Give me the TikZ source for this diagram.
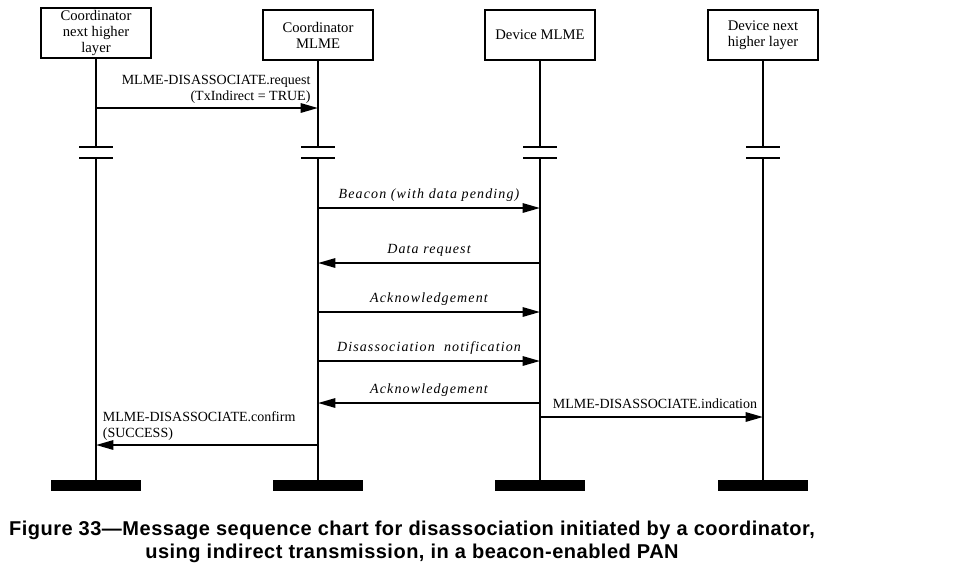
\documentclass[tikz,border=0pt]{standalone}
\usepackage{fontspec}
\setmainfont{Liberation Serif}
\newfontfamily\capfont[LetterSpace=2.5]{Liberation Sans}
\usetikzlibrary{arrows.meta}
\tikzset{
  entity/.style={draw, line width=1.1pt, minimum width=82.5pt, minimum height=37.5pt,
    align=center, inner sep=1pt, font=\fontsize{11}{12}\selectfont},
  life/.style={line width=1.5pt},
  msg/.style={line width=1.5pt, -{Triangle[length=13pt,width=7pt]}},
  lbl/.style={font=\fontsize{10.5}{12}\selectfont, inner sep=1pt},
  ilbl/.style={font=\fontsize{10.5}{12}\selectfont\itshape\addfontfeatures{LetterSpace=8},
    inner sep=1pt, above=3pt},
  capt/.style={font=\capfont\bfseries\fontsize{15}{17.25}\selectfont, align=center}
}
\begin{document}
\begin{tikzpicture}[x=0.75pt, y=-0.75pt]
  \useasboundingbox (0,0) rectangle (960,569);
  \node[entity] (cnhl)  at (96,33)  {Coordinator\\next higher\\layer};
  \node[entity] (cmlme) at (318,35) {Coordinator\\MLME};
  \node[entity] (dmlme) at (540,35) {Device MLME};
  \node[entity] (dnhl)  at (763,35) {Device next\\higher layer};
  \coordinate (brk1) at (0,147);
  \coordinate (brk2) at (0,158);
  \coordinate (bot) at (0,480);
  \foreach \n in {cnhl,cmlme,dmlme,dnhl} {
    \draw[life] (\n.south) -- (\n |- brk1);
    \draw[life] (\n |- brk2) -- (\n |- bot);
    \draw[life] ([xshift=-12.75pt]\n |- brk1) -- ([xshift=12.75pt]\n |- brk1);
    \draw[life] ([xshift=-12.75pt]\n |- brk2) -- ([xshift=12.75pt]\n |- brk2);
    \fill ([xshift=-33.75pt]\n |- bot) rectangle ([xshift=33.75pt, yshift=-8.25pt]\n |- bot);
  }
  \coordinate (m1) at (0,108);
  \coordinate (m2) at (0,208);
  \coordinate (m3) at (0,263);
  \coordinate (m4) at (0,312);
  \coordinate (m5) at (0,361);
  \coordinate (m6) at (0,403);
  \coordinate (m7) at (0,417);
  \coordinate (m8) at (0,445);
  \draw[msg] (cnhl |- m1) -- (cmlme |- m1);
  \node[lbl, anchor=south east, align=right] (req) at ([xshift=-4.5pt, yshift=2pt]cmlme |- m1)
    {MLME-DISASSOCIATE.request\\(TxIndirect = TRUE)};
  \draw[msg] (cmlme |- m2) -- node[ilbl] (bcn) {Beacon (with data pending)} (dmlme |- m2);
  \draw[msg] (dmlme |- m3) -- node[ilbl] (dreq) {Data request} (cmlme |- m3);
  \draw[msg] (cmlme |- m4) -- node[ilbl] (ack1) {Acknowledgement} (dmlme |- m4);
  \draw[msg] (cmlme |- m5) -- node[ilbl] (ntf) {Disassociation\ \ notification} (dmlme |- m5);
  \draw[msg] (dmlme |- m6) -- node[ilbl] (ack2) {Acknowledgement} (cmlme |- m6);
  \draw[msg] (dmlme |- m7) -- (dnhl |- m7);
  \node[lbl, anchor=south west] (ind) at ([xshift=8.5pt, yshift=5pt]dmlme |- m7)
    {MLME-DISASSOCIATE.indication};
  \draw[msg] (cmlme |- m8) -- (cnhl |- m8);
  \node[lbl, anchor=south west, align=left] (cnf) at ([xshift=4pt, yshift=2pt]cnhl |- m8)
    {MLME-DISASSOCIATE.confirm\\(SUCCESS)};
  \node[capt] (cap) at (412,542)
    {Figure 33—Message sequence chart for disassociation initiated by a coordinator,\\
     using indirect transmission, in a beacon-enabled PAN};
\end{tikzpicture}
\end{document}
